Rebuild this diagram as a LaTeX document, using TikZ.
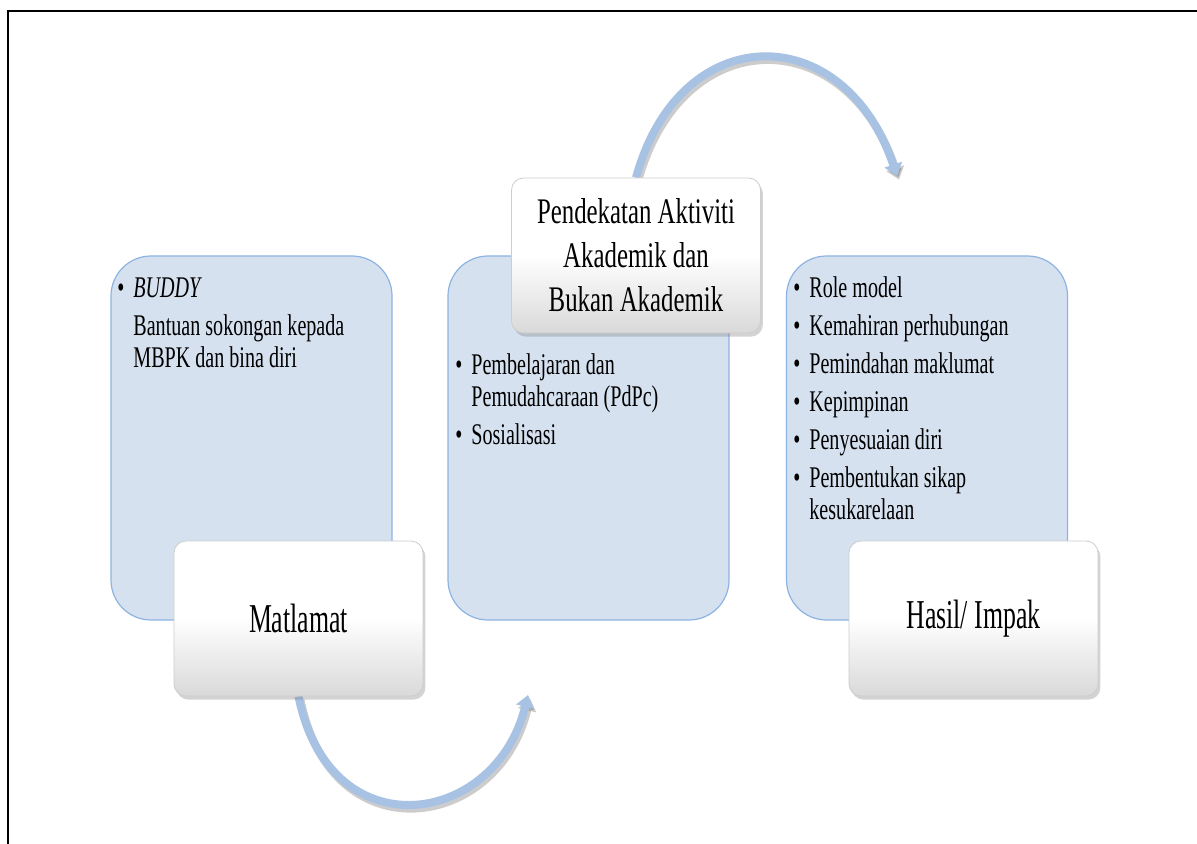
\documentclass[tikz,border=0pt]{standalone}
\usepackage{fontspec}
\setmainfont[FakeStretch=0.67]{Liberation Serif}
\newfontfamily\labelfont[FakeStretch=0.63]{Liberation Serif}
\newfontfamily\titlefont[FakeStretch=0.69]{Liberation Serif}
\usetikzlibrary{arrows.meta}
\usetikzlibrary{shadows}
\usetikzlibrary{backgrounds}
\definecolor{boxblue}{RGB}{214,225,239}
\definecolor{boxedge}{RGB}{141,179,226}
\definecolor{arcblue}{RGB}{168,194,228}
\definecolor{cardedge}{RGB}{205,205,205}
\tikzstyle{list box}=[draw=boxedge, fill=boxblue, line width=0.6pt, rounded corners=20pt, minimum width=140.5pt, minimum height=182pt]
\tikzstyle{list text}=[anchor=north west, inner sep=0pt, align=left, font=\fontsize{15}{16}\selectfont]
\tikzstyle{card}=[draw=cardedge, line width=0.4pt, rounded corners=6pt, top color=white, bottom color=black!15, middle color=white, minimum width=124.5pt, minimum height=77.5pt, align=center, drop shadow={shadow xshift=1.2pt, shadow yshift=-1.8pt, opacity=0.35}]
\tikzstyle{arc arrow}=[line width=4pt, draw=arcblue, -{Triangle[width=9pt, length=6pt]}]
\tikzstyle{arc shadow}=[arc arrow, draw=black, opacity=0.2, transform canvas={shift={(1pt,-1.8pt)}}]
\newcommand{\bul}[1]{\makebox[8pt][l]{\textbullet}#1}
\newcommand{\cont}[1]{\hspace*{8pt}#1}

\begin{document}
\begin{tikzpicture}[x=0.5pt, y=-0.5pt]
  \useasboundingbox (0,0) rectangle (1197,844);
  \draw[line width=1pt] (8,844) |- (1197,11);

  % three blue lists
  \node[list box] (goal_box) at (251.5,438) {};
  \node[list box] (approach_box) at (588.5,438) {};
  \node[list box] (impact_box) at (927,438) {};

  \node[list text] (goal_list) at (117,277)
    {\bul{\textit{BUDDY}}\\[3pt]
     \cont{Bantuan sokongan kepada}\\
     \cont{MBPK dan bina diri}};
  \node[list text] (approach_list) at (455,353)
    {\bul{Pembelajaran dan}\\
     \cont{Pemudahcaraan (PdPc)}\\[3pt]
     \bul{Sosialisasi}};
  \node[list text] (impact_list) at (793,276)
    {\bul{Role model}\\[3pt]
     \bul{Kemahiran perhubungan}\\[3pt]
     \bul{Pemindahan maklumat}\\[3pt]
     \bul{Kepimpinan}\\[3pt]
     \bul{Penyesuaian diri}\\[3pt]
     \bul{Pembentukan sikap}\\
     \cont{kesukarelaan}};

  % white title cards
  \node[card, font=\labelfont\fontsize{20.5}{24}\selectfont] (goal_card) at (298.5,618.5) {Matlamat};
  \node[card, font=\titlefont\fontsize{18}{22}\selectfont] (approach_card) at (636,255.5)
    {Pendekatan Aktiviti\\ Akademik dan\\ Bukan Akademik};
  \node[card, font=\labelfont\fontsize{20.5}{24}\selectfont] (impact_card) at (973.5,618.5) {Hasil/ Impak};

  \coordinate (lower_tip) at (528,695);
  \coordinate (upper_tip) at (897,176);

  \begin{scope}[on background layer]
    \draw[arc shadow] (goal_card.south) .. controls (330,852) and (496,827) .. (lower_tip);
    \draw[arc arrow] (goal_card.south) .. controls (330,852) and (496,827) .. (lower_tip);
    \draw[arc shadow] (approach_card.north) .. controls (680,18) and (844,18) .. (upper_tip);
    \draw[arc arrow] (approach_card.north) .. controls (680,18) and (844,18) .. (upper_tip);
  \end{scope}
\end{tikzpicture}
\end{document}
